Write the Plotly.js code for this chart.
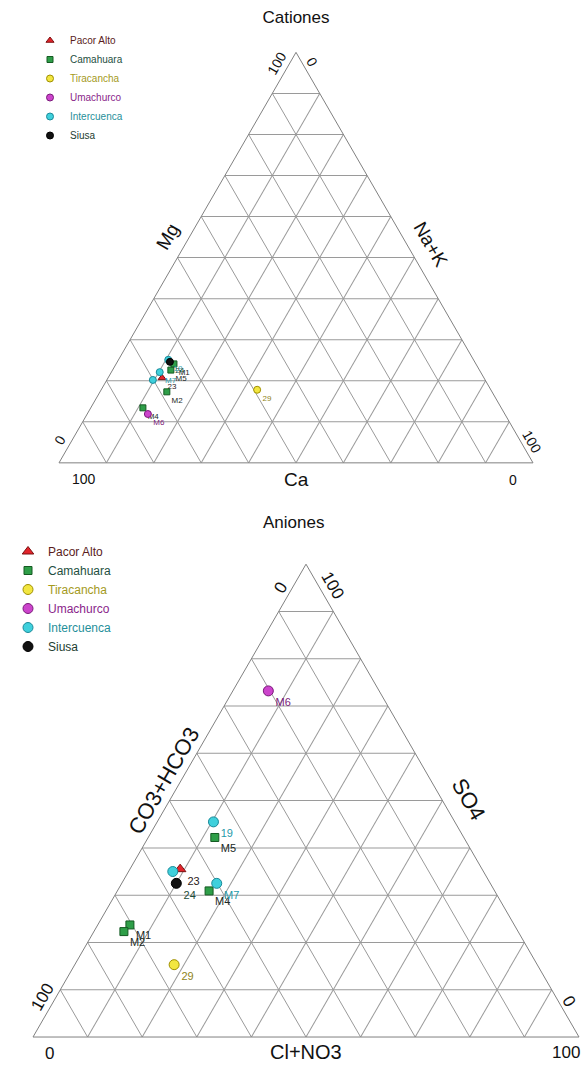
<!DOCTYPE html>
<html>
<head>
<meta charset="utf-8">
<script src="https://cdn.plot.ly/plotly-3.0.1.min.js"></script>
<style>
  html, body { margin: 0; padding: 0; background: #fff; }
  #chart { width: 584px; height: 1066px; }
</style>
</head>
<body>
<div id="chart"></div>
<script>
// Sample groups and identifiers
const groups = ['Pacor Alto', 'Camahuara', 'Tiracancha', 'Umachurco', 'Intercuenca', 'Siusa'];
const sampleIds = ['23', 'M5', 'M4', 'M1', 'M2', '29', 'M6', '19', 'M7', '', '24'];
const sampleGroup = ['Pacor Alto', 'Camahuara', 'Camahuara', 'Camahuara', 'Camahuara',
                     'Tiracancha', 'Umachurco', 'Intercuenca', 'Intercuenca', 'Intercuenca', 'Siusa'];

// Cationes (% meq)
const catMg  = [20.7, 22.6, 13.4, 24.1, 17.3, 17.8, 11.9, 25.1, 22.1, 20.2, 24.6];
const catCa  = [67.9, 65.1, 75.6, 63.7, 68.6, 49.3, 75.3, 64.4, 67.7, 70.1, 64.3];
const catNaK = [11.4, 12.3, 11.0, 12.2, 14.1, 32.9, 12.8, 10.5, 10.2,  9.7, 11.1];

// Aniones (% meq)
const anSO4 = [35.5, 42.2, 30.9, 23.7, 22.3, 15.3, 73.2, 45.5, 32.5, 35.0, 32.5];
const anCO3 = [55.3, 45.6, 52.3, 70.4, 72.2, 66.5, 20.3, 44.2, 50.1, 56.9, 57.5];
const anCl  = [ 9.2, 12.2, 16.8,  5.9,  5.5, 18.2,  6.5, 10.3, 17.4,  8.1, 10.0];

// Corner scale labels
const tickLow = '0';
const tickHigh = '100';

const FONT = 'Liberation Sans, Arial, Helvetica, sans-serif';
const W = 584, H = 1066;

const groupStyle = {
  'Pacor Alto':  { symbol: 'triangle-up', fill: '#e3242b', line: '#7a1010', label: '#2a1a1a', legend: '#5a1c1c' },
  'Camahuara':   { symbol: 'square',      fill: '#2e9e48', line: '#145a22', label: '#1b2a26', legend: '#1f4f3f' },
  'Tiracancha':  { symbol: 'circle',      fill: '#f2e640', line: '#a09000', label: '#8f8420', legend: '#a49a1c' },
  'Umachurco':   { symbol: 'circle',      fill: '#cc44cc', line: '#7a1a7a', label: '#7a1a7a', legend: '#8a1f8a' },
  'Intercuenca': { symbol: 'circle',      fill: '#3fd0dc', line: '#1a8a99', label: '#1f9aaa', legend: '#1f8f9a' },
  'Siusa':       { symbol: 'circle',      fill: '#111111', line: '#000000', label: '#1d4d3a', legend: '#1d3d30' }
};

function buildTraces(aVals, bVals, cVals, subplot, legendId, sizes, labelSize) {
  return groups.map(g => {
    const st = groupStyle[g];
    const idx = sampleGroup.map((s, i) => (s === g ? i : -1)).filter(i => i >= 0);
    let size = sizes.circle;
    if (st.symbol === 'square') size = sizes.square;
    if (st.symbol === 'triangle-up') size = sizes.triangle;
    return {
      type: 'scatterternary',
      subplot: subplot,
      legend: legendId,
      mode: 'markers+text',
      name: '<span style="color:' + st.legend + '">' + g + '</span>',
      a: idx.map(i => aVals[i]),
      b: idx.map(i => bVals[i]),
      c: idx.map(i => cVals[i]),
      text: idx.map(i => sampleIds[i]),
      textposition: 'bottom right',
      textfont: { family: FONT, size: labelSize, color: st.label },
      cliponaxis: false,
      marker: {
        symbol: st.symbol,
        size: size,
        color: st.fill,
        line: { color: st.line, width: 1 }
      },
      hoverinfo: 'a+b+c+text'
    };
  });
}

const traces = []
  .concat(buildTraces(catMg, catCa, catNaK, 'ternary', 'legend',
                      { circle: 7, square: 6, triangle: 7 }, 8))
  .concat(buildTraces(anSO4, anCO3, anCl, 'ternary2', 'legend2',
                      { circle: 10, square: 8, triangle: 10 }, 11));

function axisStyle() {
  return {
    min: 0, tick0: 0, dtick: 10,
    showgrid: true, gridcolor: '#9a9a9a', gridwidth: 1,
    showline: true, linecolor: '#808080', linewidth: 1,
    showticklabels: false, ticks: '',
    title: { text: '' }
  };
}

// pixel position -> paper annotation
function ann(text, px, py, size, angle) {
  return {
    text: text, x: px / W, y: 1 - py / H, xref: 'paper', yref: 'paper',
    xanchor: 'center', yanchor: 'middle', showarrow: false,
    textangle: angle || 0,
    font: { family: FONT, size: size, color: '#111' }
  };
}

const annotations = [
  // Cationes
  ann('Mg', 168, 237, 19, -60),
  ann('Na+K', 431, 244, 19, 60),
  ann('Ca', 296, 479, 19, 0),
  ann(tickHigh, 277, 63, 14, -60),
  ann(tickLow, 312, 62, 14, 60),
  ann(tickLow, 60, 440, 14, -60),
  ann(tickHigh, 84, 479, 14, 0),
  ann(tickHigh, 532, 442, 14, 60),
  ann(tickLow, 513, 480, 14, 0),
  // Aniones
  ann('Aniones', 293, 522, 17, 0),
  ann('CO3+HCO3', 163, 781, 22, -60),
  ann('SO4', 469, 799, 22, 60),
  ann('Cl+NO3', 306, 1052, 20, 0),
  ann(tickLow, 280, 588, 17, -60),
  ann(tickHigh, 333, 585, 17, 60),
  ann(tickHigh, 42, 997, 17, -60),
  ann(tickLow, 568, 1001, 17, 60),
  ann(tickLow, 49, 1053, 17, 0),
  ann(tickHigh, 566, 1052, 17, 0)
];

const layout = {
  width: W, height: H,
  margin: { l: 0, r: 0, t: 0, b: 0 },
  paper_bgcolor: '#fff',
  font: { family: FONT, color: '#111' },
  title: {
    text: 'Cationes', x: 296 / W, xanchor: 'center',
    y: 1 - 17 / H, yanchor: 'middle', yref: 'paper',
    font: { family: FONT, size: 17, color: '#111' }
  },
  ternary: {
    sum: 100,
    domain: { x: [59 / W, 533 / W], y: [0.56417, 0.95253] },
    bgcolor: '#fff',
    aaxis: axisStyle(), baxis: axisStyle(), caxis: axisStyle()
  },
  ternary2: {
    sum: 100,
    domain: { x: [33 / W, 579 / W], y: [0.02570, 0.47223] },
    bgcolor: '#fff',
    aaxis: axisStyle(), baxis: axisStyle(), caxis: axisStyle()
  },
  legend: {
    x: 30 / W, y: 1 - 26 / H, xanchor: 'left', yanchor: 'top',
    bgcolor: 'rgba(0,0,0,0)', font: { family: FONT, size: 10 },
    tracegroupgap: 0
  },
  legend2: {
    x: 8 / W, y: 1 - 537 / H, xanchor: 'left', yanchor: 'top',
    bgcolor: 'rgba(0,0,0,0)', font: { family: FONT, size: 12 },
    tracegroupgap: 0
  },
  annotations: annotations,
  showlegend: true
};

Plotly.newPlot('chart', traces, layout, { displayModeBar: false, staticPlot: true });
</script>
</body>
</html>
